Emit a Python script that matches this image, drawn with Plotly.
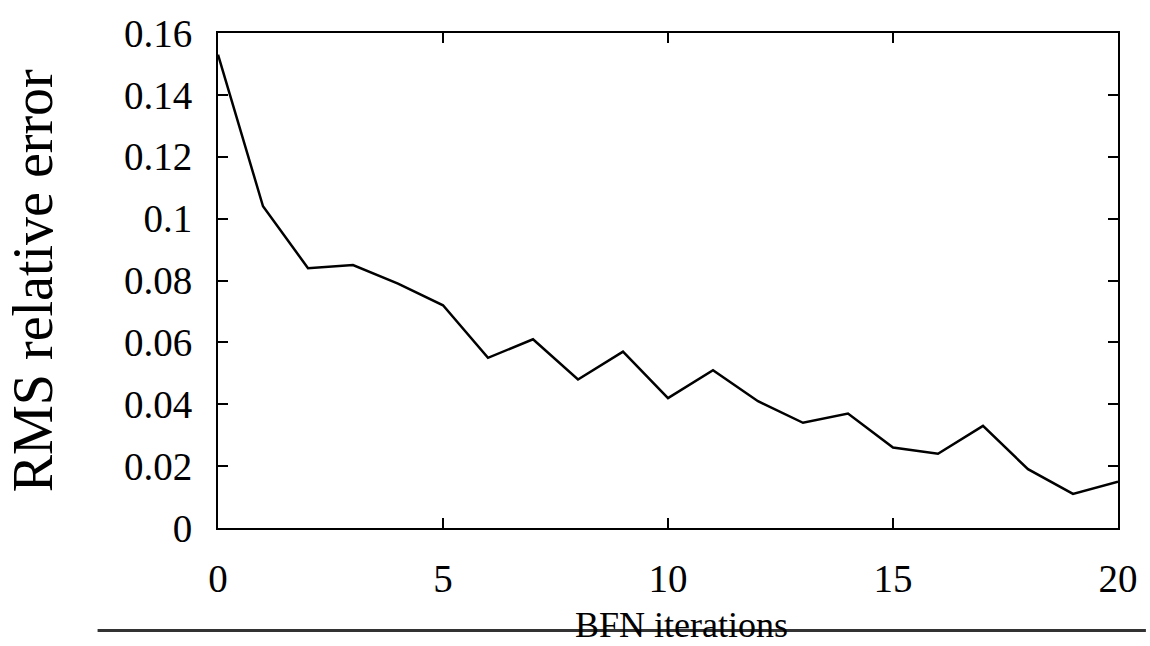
import plotly.graph_objects as go

iterations = list(range(0, 21))
rms_error = [0.153, 0.104, 0.084, 0.085, 0.079, 0.072, 0.055, 0.061, 0.048, 0.057,
             0.042, 0.051, 0.041, 0.034, 0.037, 0.026, 0.024, 0.033, 0.019, 0.011, 0.015]

x_ticks = [0, 5, 10, 15, 20]
x_tick_labels = ["0", "5", "10", "15", "20"]
y_ticks = [0, 0.02, 0.04, 0.06, 0.08, 0.1, 0.12, 0.14, 0.16]
y_tick_labels = ["0", "0.02", "0.04", "0.06", "0.08", "0.1", "0.12", "0.14", "0.16"]

FONT = "Liberation Serif"

fig = go.Figure()
fig.add_trace(go.Scatter(x=iterations, y=rms_error, mode="lines",
                         line=dict(color="black", width=2.5), showlegend=False))

axis_common = dict(showline=True, linecolor="black", linewidth=2, mirror="ticks",
                   ticks="inside", ticklen=10, tickwidth=2, tickcolor="black",
                   showgrid=False, zeroline=False,
                   tickfont=dict(family=FONT, size=39, color="black"))

fig.update_xaxes(range=[0, 20], tickvals=x_ticks, ticktext=x_tick_labels,
                 ticklabelstandoff=15, **axis_common)
fig.update_yaxes(range=[0, 0.16], tickvals=y_ticks, ticktext=y_tick_labels,
                 ticklabelstandoff=16, **axis_common)

fig.add_annotation(text="RMS relative error", xref="paper", yref="paper",
                   x=-0.2058, y=0.5, xanchor="center", yanchor="middle",
                   textangle=-90, showarrow=False,
                   font=dict(family=FONT, size=56, color="black"))
fig.add_annotation(text="BFN iterations", xref="paper", yref="paper",
                   x=0.5155, y=-0.1964, xanchor="center", yanchor="middle",
                   showarrow=False, font=dict(family=FONT, size=36, color="black"))

fig.add_shape(type="line", xref="paper", yref="paper",
              x0=-0.1338, x1=1.031, y0=-0.2073, y1=-0.2073,
              line=dict(color="#333333", width=3))

fig.update_layout(width=1150, height=646,
                  margin=dict(l=218, r=28, t=24, b=118),
                  paper_bgcolor="white", plot_bgcolor="white",
                  font=dict(family=FONT, color="black"))

fig.write_html("out.html")
